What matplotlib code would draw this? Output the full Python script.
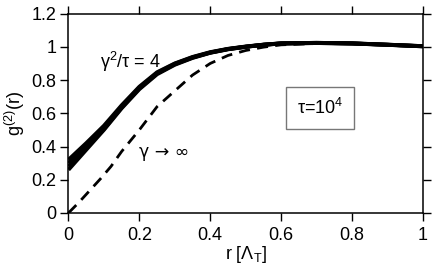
import matplotlib
matplotlib.use("Agg")
import matplotlib.pyplot as plt

plt.rcParams['font.family'] = ['Liberation Sans', 'DejaVu Sans']
plt.rcParams['mathtext.fontset'] = 'custom'
plt.rcParams['mathtext.rm'] = 'Liberation Sans'
plt.rcParams['mathtext.sf'] = 'Liberation Sans'
plt.rcParams['mathtext.it'] = 'Liberation Sans'

# Solid curves (gamma^2/tau = 4), several nearly overlapping
r_solid = [0, 0.05, 0.1, 0.15, 0.2, 0.25, 0.3, 0.35, 0.4, 0.45, 0.5, 0.55, 0.6, 0.7, 0.8, 0.9, 1.0]
g_solid_1 = [0.26, 0.38, 0.50, 0.63, 0.745, 0.835, 0.892, 0.933, 0.964, 0.985, 1.0, 1.012, 1.02, 1.023, 1.02, 1.012, 1.003]
g_solid_2 = [0.28, 0.395, 0.505, 0.635, 0.75, 0.84, 0.895, 0.935, 0.965, 0.986, 1.0, 1.012, 1.02, 1.023, 1.02, 1.012, 1.003]
g_solid_3 = [0.30, 0.41, 0.515, 0.64, 0.755, 0.843, 0.898, 0.937, 0.966, 0.987, 1.001, 1.013, 1.021, 1.024, 1.021, 1.013, 1.004]
g_solid_4 = [0.32, 0.42, 0.525, 0.648, 0.76, 0.847, 0.90, 0.939, 0.968, 0.988, 1.002, 1.013, 1.021, 1.024, 1.021, 1.013, 1.004]

# Dashed curve (gamma -> infinity)
r_dash = [0, 0.03, 0.06, 0.09, 0.12, 0.15, 0.2, 0.25, 0.3, 0.35, 0.4, 0.45, 0.5, 0.55, 0.6, 0.7, 0.8, 0.9, 1.0]
g_dash = [0, 0.065, 0.135, 0.205, 0.28, 0.37, 0.50, 0.64, 0.735, 0.83, 0.90, 0.948, 0.978, 0.998, 1.012, 1.02, 1.02, 1.012, 1.003]

xticks = [0, 0.2, 0.4, 0.6, 0.8, 1]
xticklabels = ['0', '0.2', '0.4', '0.6', '0.8', '1']
yticks = [0, 0.2, 0.4, 0.6, 0.8, 1, 1.2]
yticklabels = ['0', '0.2', '0.4', '0.6', '0.8', '1', '1.2']

FS = 13

fig = plt.figure(figsize=(4.36, 2.72), dpi=100)
ax = fig.add_axes([0.157, 0.217, 0.813, 0.733])

for g in (g_solid_1, g_solid_2, g_solid_3, g_solid_4):
    ax.plot(r_solid, g, color='black', lw=2.8, solid_capstyle='butt')
ax.plot(r_dash, g_dash, color='black', lw=2.0, dashes=(4, 2.6))

ax.set_xlim(0, 1)
ax.set_ylim(0, 1.2)
ax.set_xticks(xticks)
ax.set_xticklabels(xticklabels)
ax.set_yticks(yticks)
ax.set_yticklabels(yticklabels)
ax.tick_params(direction='out', length=5.8, width=1, labelsize=FS,
               top=True, right=True, labeltop=False, labelright=False)
ax.tick_params(axis='x', pad=4.5)
ax.tick_params(axis='y', pad=3)
for s in ax.spines.values():
    s.set_linewidth(1.1)

ax.set_xlabel('r [$\\mathrm{\\Lambda}_\\mathrm{T}$]', fontsize=FS, labelpad=0)
ax.set_ylabel('g$^{\\mathrm{(2)}}$(r)', fontsize=FS, labelpad=3)

ax.text(0.089, 0.91, '$\\mathrm{\\gamma}^\\mathrm{2}$/$\\mathrm{\\tau}$ = 4', fontsize=FS, ha='left', va='center')
ax.text(0.20, 0.37, '\u03b3 \u2192 \u221e', fontsize=FS - 0.5, ha='left', va='center',
        family=['DejaVu Sans'])
ax.text(0.71, 0.63, '$\\mathrm{\\tau}$=10$^\\mathrm{4}$', fontsize=FS, ha='center', va='center',
        bbox=dict(boxstyle='square,pad=0.6', facecolor='white', edgecolor='#777777', lw=1))

fig.savefig('out.png', dpi=100)
